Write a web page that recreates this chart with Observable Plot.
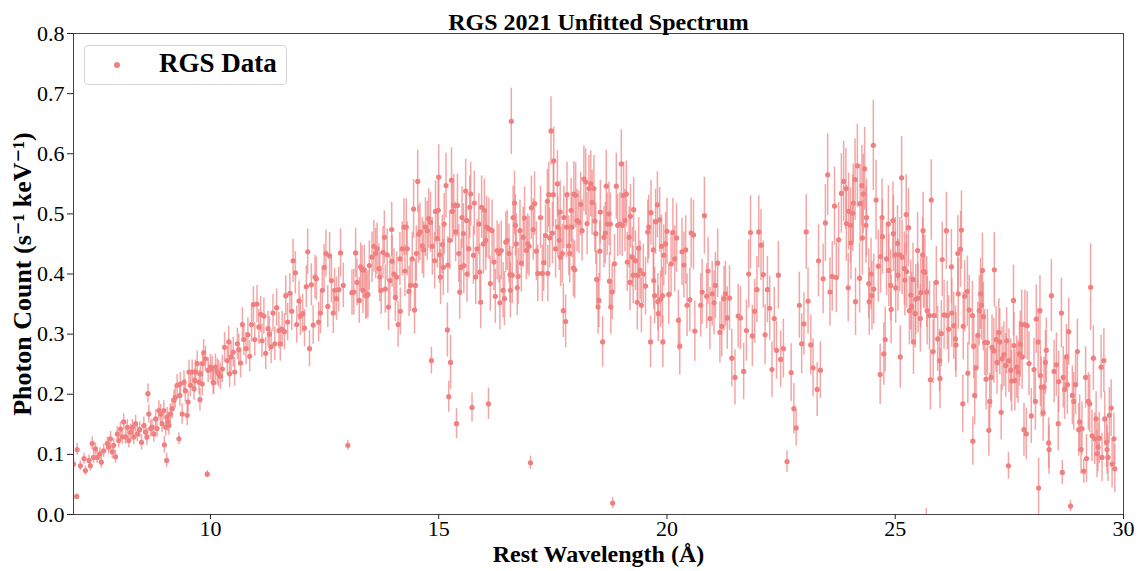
<!DOCTYPE html>
<html><head><meta charset="utf-8">
<script src="https://cdn.jsdelivr.net/npm/d3@7"></script>
<script src="https://cdn.jsdelivr.net/npm/@observablehq/plot@0.6"></script>
<style>
body{margin:0;background:#fff;}
#wrap{position:relative;width:1145px;height:571px;}
#legend{position:absolute;left:84px;top:45px;width:201px;height:38px;border:1px solid #d6d6d6;border-radius:4px;background:rgba(255,255,255,0.85);font-family:'Liberation Serif','DejaVu Serif',serif;}
#legend .dot{position:absolute;left:29px;top:16px;width:6px;height:6px;border-radius:50%;background:#F08080;}
#legend .lab{position:absolute;left:74px;top:2px;font-size:27px;font-weight:bold;color:#000;}
</style></head>
<body><div id="wrap"><div id="legend"><div class="dot"></div><div class="lab">RGS Data</div></div></div>
<script>
const titleText = "RGS 2021 Unfitted Spectrum";
const xLabel = "Rest Wavelength (Å)";
const yLabel = "Photon Count (s⁻¹ keV⁻¹)";
const legendLabel = "RGS Data";
const xTicks = [10, 15, 20, 25, 30];
const yTicks = [0, 0.1, 0.2, 0.3, 0.4, 0.5, 0.6, 0.7, 0.8];

// [wavelength Å, count, error]
const band_07_10 = [[7.00,0.084,0.008],[7.07,0.030,0.004],[7.08,0.108,0.010],[7.15,0.081,0.008],[7.23,0.093,0.009],[7.26,0.073,0.008],[7.34,0.090,0.009],[7.37,0.081,0.009],[7.41,0.118,0.011],[7.44,0.095,0.010],[7.48,0.109,0.010],[7.52,0.095,0.010],[7.58,0.101,0.010],[7.61,0.087,0.010],[7.66,0.106,0.011],[7.74,0.118,0.011],[7.77,0.112,0.011],[7.81,0.126,0.012],[7.85,0.104,0.011],[7.88,0.115,0.011],[7.92,0.096,0.011],[7.96,0.134,0.012],[7.99,0.123,0.012],[8.03,0.142,0.012],[8.07,0.129,0.012],[8.10,0.154,0.013],[8.14,0.129,0.012],[8.18,0.145,0.013],[8.21,0.123,0.012],[8.25,0.137,0.013],[8.29,0.145,0.013],[8.32,0.129,0.013],[8.36,0.151,0.014],[8.40,0.134,0.013],[8.45,0.141,0.013],[8.49,0.120,0.013],[8.54,0.148,0.014],[8.58,0.137,0.014],[8.61,0.129,0.014],[8.63,0.201,0.016],[8.65,0.167,0.015],[8.69,0.143,0.014],[8.72,0.145,0.014],[8.76,0.134,0.014],[8.80,0.159,0.015],[8.83,0.143,0.015],[8.87,0.173,0.016],[8.91,0.167,0.016],[8.94,0.151,0.015],[8.98,0.173,0.016],[8.99,0.116,0.014],[9.02,0.145,0.015],[9.04,0.090,0.012],[9.05,0.162,0.016],[9.07,0.154,0.016],[9.09,0.148,0.016],[9.12,0.167,0.017],[9.16,0.176,0.017],[9.20,0.190,0.017],[9.23,0.195,0.018],[9.27,0.215,0.018],[9.31,0.126,0.010],[9.33,0.198,0.018],[9.34,0.217,0.019],[9.38,0.167,0.017],[9.42,0.220,0.019],[9.45,0.206,0.019],[9.49,0.165,0.017],[9.51,0.187,0.018],[9.53,0.237,0.020],[9.56,0.215,0.019],[9.60,0.237,0.020],[9.64,0.209,0.019],[9.66,0.223,0.020],[9.67,0.237,0.020],[9.71,0.251,0.021],[9.75,0.220,0.020],[9.77,0.191,0.019],[9.78,0.234,0.020],[9.82,0.217,0.020],[9.83,0.251,0.021],[9.85,0.269,0.022],[9.89,0.259,0.021],[9.93,0.067,0.006],[9.95,0.240,0.021]];

const band_10_13 = [[10.00,0.245,0.021],[10.04,0.242,0.021],[10.06,0.220,0.020],[10.07,0.219,0.020],[10.11,0.245,0.022],[10.15,0.237,0.022],[10.18,0.234,0.022],[10.22,0.230,0.022],[10.26,0.242,0.023],[10.31,0.278,0.025],[10.37,0.256,0.024],[10.40,0.287,0.026],[10.42,0.234,0.023],[10.45,0.262,0.025],[10.50,0.270,0.025],[10.53,0.237,0.024],[10.59,0.284,0.026],[10.62,0.274,0.026],[10.66,0.252,0.025],[10.70,0.316,0.028],[10.73,0.291,0.027],[10.78,0.276,0.027],[10.82,0.299,0.028],[10.86,0.263,0.026],[10.90,0.316,0.029],[10.94,0.349,0.030],[10.97,0.291,0.028],[11.02,0.350,0.031],[11.06,0.312,0.029],[11.10,0.333,0.030],[11.13,0.289,0.028],[11.17,0.330,0.030],[11.21,0.268,0.027],[11.26,0.309,0.029],[11.29,0.300,0.029],[11.33,0.279,0.028],[11.37,0.335,0.031],[11.41,0.284,0.028],[11.45,0.344,0.031],[11.50,0.306,0.030],[11.53,0.284,0.029],[11.57,0.308,0.030],[11.62,0.304,0.030],[11.65,0.364,0.033],[11.69,0.320,0.031],[11.74,0.368,0.033],[11.78,0.338,0.032],[11.81,0.422,0.036],[11.86,0.402,0.035],[11.89,0.316,0.031],[11.94,0.355,0.033],[11.97,0.330,0.032],[12.02,0.334,0.032],[12.06,0.310,0.031],[12.10,0.379,0.035],[12.13,0.437,0.038],[12.17,0.276,0.030],[12.21,0.382,0.035],[12.25,0.315,0.032],[12.29,0.395,0.036],[12.32,0.392,0.036],[12.37,0.320,0.033],[12.41,0.335,0.034],[12.45,0.373,0.036],[12.49,0.411,0.038],[12.53,0.434,0.039],[12.57,0.346,0.035],[12.61,0.430,0.039],[12.65,0.389,0.037],[12.69,0.335,0.034],[12.72,0.373,0.036],[12.76,0.359,0.036],[12.81,0.374,0.037],[12.85,0.435,0.040],[12.91,0.381,0.037]];

const band_13_16 = [[13.01,0.115,0.008],[13.10,0.369,0.038],[13.14,0.370,0.038],[13.18,0.435,0.041],[13.21,0.386,0.039],[13.26,0.356,0.038],[13.29,0.412,0.040],[13.32,0.407,0.040],[13.34,0.373,0.039],[13.37,0.407,0.041],[13.40,0.364,0.039],[13.42,0.364,0.039],[13.45,0.366,0.039],[13.48,0.414,0.041],[13.54,0.428,0.042],[13.58,0.446,0.043],[13.62,0.434,0.042],[13.65,0.442,0.043],[13.69,0.409,0.041],[13.71,0.395,0.041],[13.74,0.373,0.040],[13.78,0.436,0.043],[13.81,0.461,0.044],[13.83,0.375,0.040],[13.87,0.432,0.043],[13.90,0.345,0.039],[13.93,0.389,0.041],[13.97,0.474,0.045],[13.98,0.421,0.043],[14.02,0.400,0.042],[14.05,0.361,0.040],[14.08,0.395,0.042],[14.11,0.316,0.038],[14.15,0.425,0.044],[14.16,0.338,0.039],[14.20,0.442,0.045],[14.24,0.478,0.047],[14.26,0.405,0.043],[14.29,0.478,0.047],[14.31,0.442,0.045],[14.35,0.371,0.042],[14.38,0.381,0.043],[14.42,0.425,0.045],[14.45,0.508,0.049],[14.47,0.340,0.040],[14.49,0.381,0.043],[14.51,0.434,0.046],[14.54,0.554,0.052],[14.56,0.466,0.048],[14.59,0.470,0.048],[14.64,0.447,0.047],[14.67,0.440,0.047],[14.71,0.478,0.049],[14.75,0.472,0.049],[14.78,0.492,0.050],[14.82,0.486,0.050],[14.84,0.256,0.022],[14.86,0.446,0.048],[14.91,0.422,0.047],[14.93,0.504,0.051],[14.97,0.459,0.049],[14.99,0.506,0.051],[15.00,0.561,0.054],[15.02,0.432,0.048],[15.04,0.395,0.046],[15.08,0.449,0.049],[15.10,0.411,0.047],[15.12,0.483,0.051],[15.16,0.547,0.054],[15.19,0.307,0.045],[15.20,0.415,0.047],[15.22,0.196,0.026],[15.24,0.456,0.049],[15.26,0.253,0.045],[15.28,0.556,0.054],[15.30,0.504,0.052],[15.33,0.514,0.052],[15.37,0.470,0.050],[15.39,0.151,0.025],[15.41,0.514,0.052],[15.44,0.434,0.048],[15.46,0.370,0.045],[15.49,0.411,0.047],[15.51,0.494,0.051],[15.54,0.467,0.050],[15.55,0.414,0.047],[15.59,0.538,0.053],[15.61,0.489,0.051],[15.62,0.400,0.047],[15.66,0.442,0.049],[15.68,0.511,0.052],[15.70,0.533,0.053],[15.73,0.178,0.024],[15.76,0.431,0.048],[15.78,0.518,0.053],[15.81,0.395,0.046],[15.84,0.442,0.049],[15.88,0.483,0.051],[15.90,0.403,0.047],[15.92,0.353,0.044],[15.94,0.511,0.052],[15.98,0.450,0.050]];

const band_16_19 = [[16.00,0.506,0.052],[16.03,0.456,0.050],[16.05,0.478,0.051],[16.09,0.184,0.026],[16.10,0.475,0.051],[16.13,0.384,0.046],[16.17,0.472,0.051],[16.21,0.420,0.048],[16.24,0.363,0.045],[16.28,0.439,0.049],[16.32,0.434,0.049],[16.34,0.352,0.045],[16.37,0.439,0.049],[16.41,0.373,0.046],[16.44,0.359,0.045],[16.47,0.453,0.050],[16.50,0.456,0.050],[16.54,0.434,0.049],[16.56,0.399,0.047],[16.57,0.373,0.046],[16.59,0.654,0.055],[16.61,0.398,0.047],[16.63,0.494,0.052],[16.66,0.518,0.053],[16.68,0.481,0.051],[16.70,0.450,0.050],[16.72,0.377,0.046],[16.74,0.396,0.047],[16.78,0.472,0.051],[16.81,0.418,0.048],[16.85,0.461,0.050],[16.88,0.493,0.052],[16.92,0.439,0.049],[16.95,0.450,0.050],[16.98,0.446,0.050],[17.01,0.086,0.011],[17.03,0.510,0.053],[17.07,0.474,0.051],[17.10,0.517,0.053],[17.14,0.438,0.049],[17.17,0.401,0.047],[17.23,0.494,0.052],[17.27,0.401,0.047],[17.30,0.419,0.048],[17.34,0.464,0.051],[17.38,0.521,0.053],[17.39,0.401,0.047],[17.41,0.532,0.054],[17.43,0.460,0.050],[17.46,0.638,0.057],[17.49,0.468,0.051],[17.51,0.532,0.054],[17.52,0.588,0.056],[17.56,0.442,0.049],[17.60,0.550,0.055],[17.61,0.478,0.051],[17.64,0.456,0.050],[17.66,0.503,0.052],[17.67,0.428,0.049],[17.71,0.434,0.049],[17.73,0.339,0.045],[17.74,0.494,0.052],[17.78,0.321,0.044],[17.80,0.478,0.051],[17.81,0.532,0.054],[17.85,0.447,0.050],[17.87,0.434,0.049],[17.90,0.506,0.053],[17.92,0.478,0.051],[17.95,0.410,0.048],[17.96,0.533,0.054],[17.98,0.407,0.048],[18.00,0.531,0.054],[18.03,0.489,0.052],[18.07,0.486,0.052],[18.11,0.516,0.053],[18.14,0.472,0.051],[18.18,0.558,0.055],[18.22,0.553,0.055],[18.25,0.484,0.052],[18.29,0.542,0.055],[18.33,0.550,0.055],[18.36,0.519,0.054],[18.40,0.542,0.055],[18.42,0.488,0.052],[18.44,0.467,0.051],[18.46,0.391,0.047],[18.49,0.345,0.045],[18.51,0.356,0.045],[18.53,0.438,0.050],[18.54,0.503,0.053],[18.59,0.287,0.042],[18.62,0.461,0.051],[18.65,0.468,0.051],[18.67,0.546,0.060],[18.69,0.483,0.052],[18.73,0.500,0.053],[18.74,0.388,0.047],[18.76,0.483,0.052],[18.77,0.345,0.045],[18.80,0.370,0.046],[18.81,0.019,0.009],[18.85,0.417,0.049],[18.89,0.546,0.055],[18.92,0.481,0.052],[18.97,0.483,0.052]];

const band_19_22 = [[19.00,0.583,0.057],[19.02,0.481,0.052],[19.05,0.531,0.055],[19.08,0.489,0.052],[19.11,0.533,0.055],[19.13,0.420,0.049],[19.17,0.461,0.051],[19.19,0.386,0.047],[19.20,0.496,0.053],[19.24,0.428,0.050],[19.26,0.398,0.048],[19.27,0.507,0.054],[19.31,0.422,0.050],[19.35,0.353,0.046],[19.36,0.398,0.048],[19.38,0.443,0.051],[19.41,0.406,0.049],[19.44,0.348,0.046],[19.48,0.400,0.049],[19.53,0.380,0.048],[19.58,0.470,0.053],[19.60,0.478,0.053],[19.64,0.287,0.043],[19.65,0.502,0.054],[19.70,0.440,0.051],[19.71,0.389,0.048],[19.73,0.364,0.047],[19.75,0.487,0.054],[19.79,0.515,0.055],[19.80,0.354,0.047],[19.81,0.334,0.046],[19.84,0.490,0.054],[19.86,0.358,0.047],[19.88,0.446,0.052],[19.90,0.364,0.047],[19.91,0.287,0.043],[19.93,0.431,0.051],[19.97,0.450,0.052],[20.00,0.471,0.055],[20.04,0.366,0.050],[20.09,0.417,0.054],[20.13,0.469,0.057],[20.17,0.425,0.055],[20.21,0.460,0.057],[20.25,0.323,0.050],[20.28,0.280,0.048],[20.33,0.437,0.056],[20.37,0.415,0.055],[20.41,0.440,0.057],[20.44,0.348,0.052],[20.50,0.357,0.053],[20.53,0.468,0.058],[20.58,0.465,0.058],[20.61,0.305,0.050],[20.74,0.348,0.053],[20.77,0.370,0.054],[20.82,0.497,0.064],[20.87,0.363,0.054],[20.90,0.405,0.056],[20.94,0.326,0.052],[20.99,0.367,0.054],[21.03,0.352,0.053],[21.06,0.381,0.055],[21.11,0.418,0.057],[21.16,0.303,0.051],[21.20,0.313,0.051],[21.25,0.359,0.054],[21.28,0.367,0.054],[21.32,0.327,0.052],[21.37,0.360,0.054],[21.42,0.260,0.048],[21.49,0.228,0.046],[21.56,0.330,0.053],[21.61,0.327,0.053],[21.68,0.238,0.047],[21.74,0.306,0.051],[21.79,0.400,0.057],[21.83,0.469,0.061],[21.87,0.297,0.051],[21.92,0.338,0.053],[21.97,0.374,0.055]];

const band_22_25 = [[22.01,0.470,0.060],[22.06,0.448,0.059],[22.11,0.399,0.056],[22.15,0.299,0.050],[22.20,0.374,0.055],[22.25,0.343,0.053],[22.30,0.241,0.046],[22.35,0.326,0.052],[22.40,0.273,0.048],[22.44,0.398,0.056],[22.49,0.258,0.047],[22.55,0.276,0.049],[22.63,0.088,0.018],[22.72,0.236,0.048],[22.78,0.176,0.042],[22.83,0.144,0.030],[22.90,0.348,0.055],[22.95,0.284,0.050],[23.00,0.317,0.052],[23.05,0.470,0.062],[23.09,0.355,0.055],[23.15,0.282,0.050],[23.20,0.244,0.048],[23.29,0.208,0.045],[23.32,0.422,0.060],[23.36,0.240,0.047],[23.42,0.392,0.058],[23.47,0.485,0.064],[23.52,0.565,0.068],[23.57,0.370,0.057],[23.62,0.396,0.058],[23.67,0.513,0.065],[23.71,0.394,0.058],[23.76,0.457,0.062],[23.82,0.534,0.066],[23.87,0.554,0.067],[23.92,0.542,0.067],[23.93,0.484,0.063],[23.97,0.377,0.057],[23.98,0.504,0.064],[24.02,0.481,0.063],[24.03,0.452,0.062],[24.07,0.501,0.064],[24.08,0.518,0.065],[24.12,0.557,0.068],[24.13,0.354,0.056],[24.17,0.580,0.069],[24.22,0.393,0.058],[24.23,0.517,0.065],[24.27,0.547,0.067],[24.28,0.460,0.062],[24.30,0.533,0.066],[24.33,0.575,0.069],[24.36,0.481,0.063],[24.37,0.494,0.064],[24.42,0.384,0.058],[24.43,0.354,0.056],[24.47,0.400,0.059],[24.49,0.364,0.057],[24.52,0.614,0.075],[24.53,0.375,0.058],[24.58,0.523,0.066],[24.63,0.413,0.060],[24.67,0.233,0.050],[24.68,0.429,0.061],[24.71,0.494,0.064],[24.72,0.462,0.062],[24.75,0.267,0.052],[24.78,0.291,0.054],[24.81,0.425,0.061],[24.85,0.483,0.064],[24.86,0.406,0.060],[24.90,0.381,0.059],[24.91,0.341,0.057],[24.95,0.489,0.064],[24.96,0.467,0.063]];

const band_25_28 = [[25.00,0.432,0.062],[25.01,0.377,0.059],[25.05,0.451,0.063],[25.06,0.398,0.060],[25.10,0.432,0.062],[25.11,0.262,0.052],[25.14,0.560,0.069],[25.15,0.428,0.062],[25.20,0.409,0.061],[25.21,0.390,0.060],[25.24,0.499,0.066],[25.25,0.404,0.061],[25.29,0.477,0.065],[25.31,0.339,0.057],[25.34,0.365,0.058],[25.36,0.346,0.057],[25.39,0.391,0.060],[25.40,0.287,0.054],[25.44,0.334,0.057],[25.45,0.358,0.058],[25.49,0.439,0.063],[25.50,0.360,0.058],[25.55,0.326,0.056],[25.56,0.369,0.059],[25.60,0.432,0.062],[25.61,0.472,0.064],[25.62,0.404,0.061],[25.65,0.403,0.061],[25.68,-0.015,0.025],[25.69,0.370,0.059],[25.70,0.339,0.057],[25.75,0.331,0.057],[25.77,0.224,0.050],[25.79,0.523,0.067],[25.83,0.271,0.053],[25.85,0.331,0.057],[25.90,0.386,0.060],[25.93,0.292,0.054],[25.97,0.256,0.052],[25.98,0.226,0.050],[26.01,0.301,0.055],[26.03,0.424,0.062],[26.07,0.332,0.057],[26.12,0.472,0.064],[26.14,0.331,0.057],[26.17,0.308,0.056],[26.23,0.412,0.062],[26.24,0.335,0.057],[26.28,0.314,0.056],[26.32,0.292,0.055],[26.33,0.282,0.054],[26.37,0.434,0.063],[26.38,0.367,0.059],[26.43,0.441,0.063],[26.45,0.473,0.065],[26.48,0.184,0.048],[26.49,0.313,0.056],[26.52,0.363,0.059],[26.58,0.371,0.059],[26.59,0.235,0.051],[26.62,0.340,0.058],[26.69,0.331,0.057],[26.70,0.122,0.040],[26.72,0.280,0.054],[26.74,0.198,0.049],[26.77,0.244,0.052],[26.81,0.298,0.055],[26.84,0.339,0.058],[26.87,0.367,0.059],[26.89,0.348,0.058],[26.91,0.406,0.062],[26.93,0.329,0.057],[26.96,0.286,0.055],[26.99,0.225,0.051],[27.02,0.286,0.055],[27.05,0.140,0.043],[27.07,0.188,0.047],[27.10,0.228,0.051],[27.12,0.278,0.054],[27.16,0.272,0.054],[27.17,0.407,0.062],[27.21,0.291,0.055],[27.23,0.253,0.053],[27.27,0.303,0.056],[27.29,0.287,0.055],[27.32,0.170,0.046],[27.34,0.259,0.053],[27.38,0.266,0.054],[27.42,0.248,0.053],[27.44,0.289,0.055],[27.48,0.081,0.022],[27.49,0.256,0.053],[27.53,0.240,0.052],[27.55,0.222,0.051],[27.59,0.356,0.059],[27.60,0.281,0.055],[27.62,0.223,0.051],[27.66,0.245,0.052],[27.69,0.237,0.052],[27.72,0.267,0.054],[27.74,0.283,0.055],[27.77,0.316,0.057],[27.78,0.262,0.054],[27.82,0.141,0.044],[27.84,0.316,0.057],[27.87,0.134,0.043],[27.89,0.314,0.057],[27.93,0.251,0.053],[27.98,0.164,0.046]];

const band_28_30 = [[28.04,0.241,0.052],[28.07,0.188,0.048],[28.09,0.325,0.057],[28.13,0.287,0.055],[28.14,0.044,0.050],[28.17,0.339,0.058],[28.18,0.231,0.051],[28.20,0.212,0.050],[28.24,0.169,0.047],[28.26,0.212,0.050],[28.29,0.253,0.053],[28.31,0.273,0.054],[28.36,0.119,0.042],[28.37,0.108,0.041],[28.42,0.364,0.060],[28.48,0.238,0.052],[28.53,0.249,0.053],[28.57,0.151,0.045],[28.58,0.221,0.051],[28.64,0.335,0.058],[28.66,0.070,0.020],[28.68,0.228,0.051],[28.71,0.208,0.050],[28.75,0.262,0.054],[28.77,0.216,0.050],[28.80,0.304,0.056],[28.84,0.014,0.009],[28.88,0.198,0.049],[28.91,0.188,0.048],[28.95,0.216,0.050],[28.99,0.271,0.054],[29.02,0.141,0.044],[29.04,0.154,0.045],[29.07,0.108,0.041],[29.09,0.143,0.044],[29.13,0.072,0.020],[29.17,0.228,0.051],[29.19,0.093,0.040],[29.23,0.188,0.048],[29.26,0.184,0.048],[29.28,0.378,0.072],[29.31,0.131,0.043],[29.34,0.260,0.054],[29.37,0.126,0.043],[29.40,0.159,0.045],[29.42,0.101,0.040],[29.44,0.112,0.041],[29.47,0.127,0.043],[29.51,0.245,0.053],[29.53,0.095,0.040],[29.57,0.256,0.053],[29.59,0.159,0.045],[29.63,0.120,0.042],[29.64,0.108,0.041],[29.66,0.095,0.040],[29.69,0.165,0.046],[29.73,0.177,0.047],[29.75,0.084,0.040],[29.79,0.126,0.043],[29.81,0.076,0.040]];

const rows = [band_07_10, band_10_13, band_13_16, band_16_19, band_19_22, band_22_25, band_25_28, band_28_30]
  .flat().map(([w, c, e]) => ({w, c, e}));

const color = "#F08080";
const font = "'Liberation Serif','DejaVu Serif',serif";

const chart = Plot.plot({
  width: 1145, height: 571,
  marginLeft: 73, marginRight: 22, marginTop: 33, marginBottom: 57,
  x: {domain: [7, 30]},
  y: {domain: [0, 0.8]},
  style: {fontFamily: font, fontSize: "22px", color: "#000", background: "#fff"},
  marks: [
    Plot.ruleX(rows, {x: "w", y1: d => d.c - d.e, y2: d => d.c + d.e, stroke: color, strokeOpacity: 0.7, strokeWidth: 1.5, clip: true}),
    Plot.dot(rows, {x: "w", y: "c", r: 2.6, fill: color, stroke: "none", clip: true}),
    Plot.frame({stroke: "#444", strokeWidth: 1}),
    Plot.axisX({ticks: xTicks, tickFormat: d => String(d), tickSize: 5, tickPadding: 1, fontSize: 22, label: null, stroke: "#222"}),
    Plot.axisY({ticks: yTicks, tickFormat: d3.format(".1f"), tickSize: 6, tickPadding: 3, fontSize: 22, label: null, stroke: "#222"}),
    Plot.text([titleText], {frameAnchor: "top", dy: -21, fontWeight: "bold", fontSize: 24, fill: "#000"}),
    Plot.text([xLabel], {frameAnchor: "bottom", dy: 47, fontWeight: "bold", fontSize: 24, fill: "#000"}),
    Plot.text([yLabel], {frameAnchor: "left", dx: -51, rotate: -90, textAnchor: "middle", fontWeight: "bold", fontSize: 26, fill: "#000"})
  ]
});
document.getElementById("wrap").prepend(chart);
</script>
</body></html>
